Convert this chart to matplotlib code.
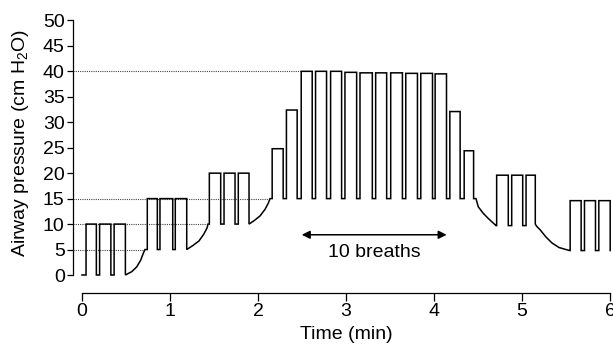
import matplotlib
matplotlib.use("Agg")
import matplotlib.pyplot as plt

plt.rcParams['font.family'] = ['Liberation Sans', 'DejaVu Sans']
plt.rcParams['mathtext.fontset'] = 'custom'
plt.rcParams['mathtext.rm'] = 'Liberation Sans'
plt.rcParams['mathtext.it'] = 'Liberation Sans:italic'

# ---- data (time in min, pressure in cm H2O) ----
trace_start = (0.0, 0.0)
breath_start = [0.046, 0.200, 0.365,
                0.742, 0.886, 1.060,
                1.447, 1.614, 1.776,
                2.161, 2.323,
                2.491, 2.654, 2.825, 2.988, 3.159, 3.337, 3.508, 3.679, 3.850, 4.013,
                4.180, 4.343,
                4.712, 4.883, 5.046,
                5.547, 5.710, 5.873]
breath_end = [0.163, 0.328, 0.493,
              0.856, 1.031, 1.190,
              1.576, 1.739, 1.898,
              2.286, 2.445,
              2.616, 2.779, 2.950, 3.121, 3.299, 3.462, 3.641, 3.812, 3.983, 4.142,
              4.297, 4.450,
              4.844, 5.008, 5.151,
              5.672, 5.835, 6.002]
breath_peak = [10, 10, 10,
               15, 15, 15,
               20, 20, 20,
               24.8, 32.4,
               40, 40, 40, 39.8, 39.7, 39.7, 39.7, 39.6, 39.6, 39.5,
               32.1, 24.4,
               19.6, 19.6, 19.6,
               14.6, 14.6, 14.6]
peep_after = [0, 0, 0,
              5, 5, 5,
              10, 10, 10,
              15, 15,
              15, 15, 15, 15, 15, 15, 15, 15, 15, 15,
              15, 15,
              9.7, 9.7, 10,
              4.8, 4.8, 4.8]

# PEEP transition curves (after breath index)
transition_t = {
    2: [0.493, 0.565, 0.622, 0.667, 0.697, 0.716],
    5: [1.190, 1.261, 1.330, 1.383, 1.420, 1.432],
    8: [1.898, 1.958, 2.023, 2.080, 2.117, 2.136],
    22: [4.450, 4.477, 4.503, 4.560, 4.617, 4.674, 4.705],
    25: [5.151, 5.165, 5.210, 5.270, 5.340, 5.420, 5.500, 5.540],
}
transition_p = {
    2: [0, 0.65, 1.6, 2.9, 4.3, 5.0],
    5: [5, 5.8, 6.7, 8.0, 9.2, 10.0],
    8: [10, 10.7, 11.6, 12.9, 14.1, 15.0],
    22: [15, 15, 13.4, 12.1, 11.1, 10.2, 9.7],
    25: [10, 9.6, 8.8, 7.5, 6.3, 5.4, 5.0, 4.8],
}

# dotted reference levels and where they end
ref_levels = [5, 10, 15, 40]
ref_ends = [0.70, 1.42, 2.13, 2.491]

arrow_span = (2.497, 4.144)
arrow_level = 7.9
arrow_text = "10 breaths"

yticks = list(range(0, 51, 5))
xticks = list(range(0, 7))

# ---- build the trace ----
tt = [trace_start[0]]
pp = [trace_start[1]]
for i in range(len(breath_start)):
    base = pp[-1]
    tt += [breath_start[i], breath_start[i], breath_end[i], breath_end[i]]
    pp += [base, breath_peak[i], breath_peak[i], peep_after[i]]
    if i in transition_t:
        tt += transition_t[i]
        pp += transition_p[i]

# ---- figure ----
FS = 14
W, H = 613, 347
fig = plt.figure(figsize=(W / 100, H / 100), dpi=100)
left_px, right_px = 72.7, 613
bot_px, top_px = 275, 20.4
ax = fig.add_axes([left_px / W, (H - bot_px) / H,
                   (right_px - left_px) / W, (bot_px - top_px) / H])

x0 = -9.3 / 88.0
x1 = x0 + (right_px - left_px) / 88.0
ax.set_xlim(x0, x1)
ax.set_ylim(0, 50)

for lvl, end in zip(ref_levels, ref_ends):
    ax.plot([x0, end], [lvl, lvl], color='#444444', lw=0.8,
            linestyle=(0, (1, 1)), zorder=1, clip_on=False)

ax.plot(tt, pp, color='black', lw=1.1, zorder=3, clip_on=False,
        solid_joinstyle='miter')

ax.annotate('', xy=(arrow_span[0], arrow_level), xytext=(arrow_span[1], arrow_level),
            arrowprops=dict(arrowstyle='<|-|>', color='black', lw=1.1,
                            mutation_scale=12, shrinkA=0, shrinkB=0))
ax.text(sum(arrow_span) / 2 + 0.0, arrow_level - 3.5, arrow_text,
        ha='center', va='center', fontsize=FS)

for s in ['top', 'right']:
    ax.spines[s].set_visible(False)
ax.spines['left'].set_bounds(0, 50)
ax.spines['bottom'].set_bounds(0, 6)
ax.spines['bottom'].set_position(('outward', 13))
ax.spines['left'].set_linewidth(0.9)
ax.spines['bottom'].set_linewidth(0.9)

ax.set_yticks(yticks)
ax.set_xticks(xticks)
ax.tick_params(axis='y', length=4.3, width=0.9, pad=1.5, labelsize=FS)
ax.tick_params(axis='x', length=5.5, width=0.9, pad=2, labelsize=FS)

ax.set_ylabel('Airway pressure (cm H$_2$O)', fontsize=FS)
ax.yaxis.set_label_coords(-0.077, 0.52)
ax.set_xlabel('Time (min)', fontsize=FS)
ax.xaxis.set_label_coords((3 - x0) / (x1 - x0), -0.2)

fig.savefig('out.png', dpi=100)
